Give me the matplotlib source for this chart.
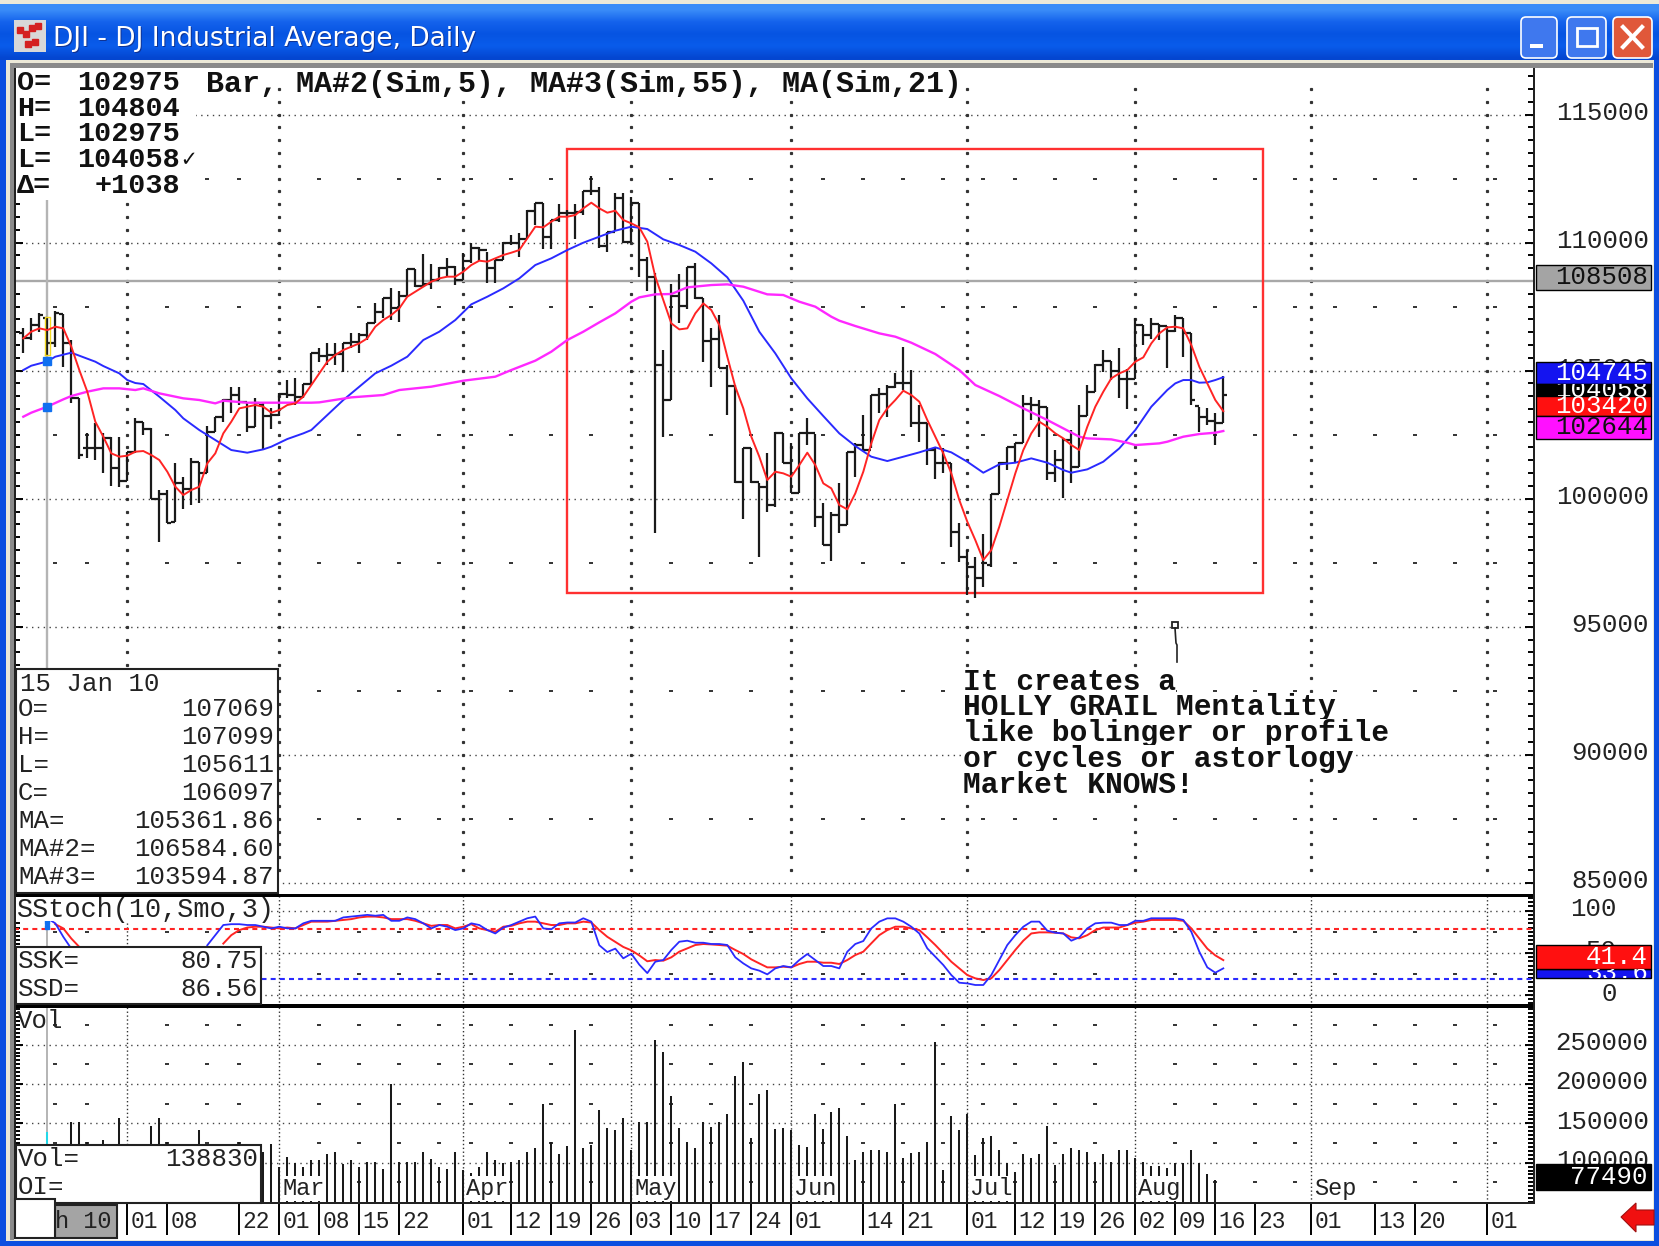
import matplotlib

matplotlib.use("Agg")
import numpy as np
from matplotlib import pyplot as plt
from matplotlib.patches import FancyBboxPatch, Polygon, Rectangle
from matplotlib.ticker import MultipleLocator
from matplotlib.transforms import ScaledTranslation

W, H = 1659, 1246

opens = [106458,106263,106784,107069,106094,107214,106068,103920,101966,101966,
         101966,102357,101185,100703,101810,103008,102709,99974,100183,99102,
         100625,100378,101446,101016,102618,103177,103854,104050,103789,102813,
         103659,103229,103268,104089,104050,103985,104479,105703,105573,105612,
         105651,106094,106133,106393,106875,107305,107825,107435,107916,108958,
         108307,108385,108541,108997,109062,108541,109297,109778,109713,108997,
         109323,110000,110000,110130,111250,111536,110234,110885,111145,111145,
         111210,112031,112031,109870,110429,111731,110039,111536,109323,108646,
         105221,103854,107916,107526,109036,107825,106172,106224,105091,104401,
         100664,101966,100664,100469,99753,102578,101380,100235,102552,102552,
         99297,98190,99362,98972,101836,102097,101901,104049,104088,104375,
         104531,104505,102942,102968,101901,101406,101380,98711,97734,97344,
         96888,97409,100182,101380,102005,102187,103697,103658,103593,100989,
         101510,102291,101224,103229,104179,105221,105390,105000,104661,104661,
         106784,106393,106823,106744,106562,107044,106484,103620,103203,103047,
         102975]
highs = [106654,107044,107266,107099,107344,107214,106198,103920,102552,102943,
         102578,102422,102422,101836,103138,103008,102748,100339,100339,101407,
         100860,101602,101446,102839,103203,103880,104375,104375,103789,103920,
         103724,103529,104115,104636,104701,104479,105703,105872,106094,106068,
         106068,106484,106458,106875,107656,107825,108216,108125,108958,108958,
         109557,109153,109062,109388,109088,109583,109999,109843,109648,109323,
         110039,110299,110390,111276,111536,111536,110885,111497,111276,111497,
         112031,112604,112187,110429,111953,111953,111796,111536,109453,108802,
         105807,108385,108776,109062,109218,107825,106654,107174,105221,104440,
         101966,101966,100599,101797,102617,102578,102188,102552,103138,102526,
         99844,99493,100625,101836,102188,103268,104050,104309,104440,104895,
         105937,105026,103659,102968,102031,101966,101380,99062,97995,97734,
         98620,100182,101445,102031,102161,104049,103984,103854,103593,101901,
         102357,102682,103658,104440,105260,105807,105390,105872,105052,107044,
         106784,107044,106823,106744,107174,107044,106458,103594,103529,103359,
         104804]
lows = [105677,106198,106524,105611,105938,105130,103724,101537,101576,101511,
        100990,100495,100443,100703,101771,102487,99974,98321,99037,99102,
        99584,99753,99818,101016,102618,103008,103334,103659,102618,102813,
        101901,102709,103229,103920,103659,103920,104440,105352,105221,105221,
        104961,105898,105677,106198,106849,107044,106979,106914,107890,108281,
        108281,108177,108541,108646,108346,108541,109192,109297,108411,108411,
        109323,109909,109427,110169,110690,109739,109739,110820,111015,110130,
        111080,111861,109778,109648,110468,110000,110039,108646,108125,98646,
        102422,103854,106849,107396,107786,105352,104349,105091,103268,100625,
        99193,100599,97709,99493,99688,101380,100209,100209,102097,98881,
        98190,97579,98646,98972,100860,101901,101966,103333,103203,104309,
        104244,102812,102226,101315,100755,100989,98125,97539,96237,96107,
        96563,97344,100182,101120,101445,102161,103073,102422,100729,100664,
        100013,100599,101250,103229,104179,104960,104635,103919,103489,104661,
        106002,106224,106198,105117,106523,105521,103659,102617,102877,102096,
        102975]
closes = [106263,106784,107175,106097,107266,106068,103920,101706,101966,101966,
          102357,101185,100703,101810,103008,102709,99974,100183,99063,100625,
          100378,101446,101016,102618,103177,103854,104050,103789,102813,103724,
          103229,103268,104089,104050,103985,104479,105703,105573,105612,105651,
          106094,106133,106393,106875,107305,107825,107435,107916,108958,108307,
          108385,108541,108997,109062,108541,109297,109778,109713,108997,109323,
          110000,110000,110130,111250,111536,110234,110885,111145,111145,111210,
          112031,112031,109870,110429,111731,110039,111536,109323,108646,105221,
          103854,107916,107526,109036,107825,106172,106224,105091,104401,100664,
          101966,100664,100469,99753,102578,101380,100209,102552,102552,99297,
          98190,99362,98972,101836,102097,101901,104050,104088,104375,104531,
          104505,102942,102968,101901,101406,101380,98711,97734,97344,96888,
          97474,100182,101380,102005,102187,103697,103658,103593,100989,101510,
          102291,101224,103229,104179,105221,105390,105000,104661,104661,106784,
          106393,106823,106744,106562,107044,106484,103854,103203,103047,102969,
          104058]

ma5 = [106263,106524,106654,106585,106719,106654,105938,105026,104180,103008,
       102422,101771,101641,101680,101836,101862,101706,101511,101055,100469,
       100144,100339,100469,101381,101771,102552,103008,103529,103594,103659,
       103594,103360,103464,103659,103724,103985,104440,104896,105351,105612,
       105807,105937,106068,106263,106719,106979,107174,107435,107890,108086,
       108281,108476,108606,108672,108672,108867,109127,109297,109258,109388,
       109518,109609,109713,110169,110625,110599,110820,111015,111015,111080,
       111341,111562,111341,111171,111250,110885,110755,110599,110039,108672,
       107760,106849,106614,106654,107239,107630,107370,106784,105547,104375,
       103529,102422,101641,100729,101055,100990,100860,101315,101797,101315,
       100599,100404,99753,99584,100209,101055,102161,103073,103528,103854,
       104218,104049,103789,103073,102422,101771,100989,99948,99101,98385,
       97604,97995,98906,99948,100989,101901,102552,103008,102812,102552,
       102357,102096,101901,102812,103593,104179,104700,104895,105026,105351,
       105520,106067,106458,106692,106718,106653,106002,105156,104505,103854,
       103420]

ma21_x = [0,1,3,4,6,7,9,10,12,13,14,15,17,19,20,22,24,26,28,30,31,33,35,36,
          38,40,42,44,46,48,50,52,54,56,58,60,62,64,66,68,70,72,
          74,76,78,80,82,84,86,88,90,92,94,96,98,100,102,104,106,
          108,110,112,114,116,118,120,122,124,126,128,130,131,133,135,137,139,
          141,142,143,144,145,146,147,148,149,150]
ma21 = [105026,105195,105362,105547,105703,105586,105352,105182,104896,104636,104518,104479,
        103985,103464,103138,102682,102292,101901,101797,101927,102032,102331,102552,102682,
        103268,103854,104375,104896,105195,105547,106198,106523,106979,107591,107890,108216,
        108606,109127,109388,109713,109999,110234,
        110468,110625,110533,110130,109909,109648,109192,108646,107734,106523,105677,104701,
        103919,103229,102552,102057,101641,
        101471,101640,101810,102005,101810,101445,101015,101341,101406,101575,101406,101120,
        101015,101146,101445,101966,102682,
        103593,103919,104245,104505,104635,104635,104531,104544,104635,104745]

ma55_x = [0,1,3,5,6,8,10,12,14,15,17,20,22,24,25,28,36,37,41,45,47,51,55,59,61,64,66,68,70,72,
          74,76,77,79,81,83,86,88,90,93,95,97,99,101,102,104,107,
          109,111,114,117,119,122,125,128,130,132,133,136,138,139,142,143,145,147,149,150]
ma55 = [103203,103360,103595,103880,104010,104180,104310,104310,104245,104310,104115,103920,
        103855,103724,103828,103750,103750,103763,103958,104050,104245,104375,104609,104766,
        105026,105391,105742,106198,106523,106888,
        107239,107695,107864,107982,107995,108255,108346,108372,108281,107982,107956,107695,
        107500,107109,106953,106745,106458,
        106328,106093,105651,105026,104440,104010,103528,103073,102747,102422,102356,102317,
        102187,102096,102161,102226,102422,102526,102578,102644]

ssk_head = [91,85,69,55,47]  # from Jan 15, then hidden behind the readout box
ssk = [59,71,83,84,84,83,83,81,79,81,79,79,85,88,88,88,88,92,93,94,95,94,95,88,88,92,90,85,79,83,
       81,77,79,85,83,77,73,80,83,87,91,93,79,78,85,86,86,91,87,59,51,55,43.5,49,36,26,39.5,
       41.5,53.4,63.2,64.4,62,62,60.5,60.5,59.3,44.7,37.5,31.6,28.9,24.5,31.6,34.4,32.8,41.5,48.6,
       41.5,34.4,34.4,31.6,51.4,60.5,64,79,87,90.9,90.9,87,81,73,55.3,45.5,35.6,23.7,14.6,13.8,11.9,
       11.9,23.7,41.5,59.3,71,81,87,87,76.3,73.9,73,64.4,68.4,79,85,85.8,85.8,83,83,88,88,91,91,91,
       91,89,75,51.4,32.8,26.5,31.6]
ssd_head = [84,79,67,57]
ssd = [61,71,77,80,81,81,80,79,80,79,83,87,87,87,88,89,90,92,93,93,92,90,90,90,88,85,82,83,83,79,
       81,84,79,77,75,81,82,85,87,87,85,83,83,85,85,87,86,77,69,63,57,53,47,40,
       41.5,40.7,44.7,51.4,55.3,59.3,60.5,60,59.3,58.5,53.4,48.6,42.3,37.5,32.8,32.8,33.6,32.8,36.8,
       39.5,39.5,38.3,38.3,36.8,41.5,47.4,51.4,61.3,71,77,81,81,79,77,68.4,59.3,49.4,39.5,31.6,23.7,
       19.8,17.8,19.8,29.6,41.5,53.4,64.4,73,74.3,74.3,73.9,73,68.4,67.2,71,77,80,80,80,83,85.8,87,
       89,89,89,89,88,79,67,55,47,41.4]

vol_early_x = [3,6,7,8,10,12,16,17,18,22,27]
vol_early = [138830,151300,151300,126700,128800,156350,146600,156350,126700,141500,126700]
vol = [114000,123700,94900,106800,100000,94900,103400,103400,111000,114000,
       98300,103400,94100,101300,101300,91500,200000,101300,101300,101300,
       114000,104200,94900,91500,114000,90700,87300,94100,114000,103400,
       100000,101300,103400,114000,119100,174600,126700,111000,121200,268600,
       119100,122500,167000,144500,141500,156350,116100,152100,152100,255900,
       241100,184700,143600,126700,118200,152100,144900,152100,161800,210200,
       228400,130900,187300,192400,142400,143600,141500,122500,120300,161800,
       142400,164800,169100,133900,103400,114000,116100,116100,114000,174600,
       105500,111900,114000,126700,253000,90700,159300,141500,161800,109700,
       130900,133900,116100,99200,88600,111000,105500,111000,146600,97000,
       111000,119100,116100,114000,101300,111000,101300,116100,116100,105500,
       101300,95800,95800,92800,100000,100000,116100,100000,85600,77490]

date_x = [13,18,27,32,37,42,47,55,61,66,71,76,81,86,91,96,105,110,118,124,129,134,139,144,149,154,161,169,174,183]
date_labels = ["01","08","22","01","08","15","22","01","12","19","26","03","10","17","24","01",
               "14","21","01","12","19","26","02","09","16","23","01","13","20","01"]
month_x = [32,55,76,96,118,139,161]
month_labels = ["Mar","Apr","May","Jun","Jul","Aug","Sep"]
grid_months = [13,32,55,76,96,118,139,161,183]
grid_weeks = [4,8,18,23,27,37,42,47,52,56,61,66,71,81,86,91,100,105,110,115,120,124,129,134,
              144,149,154,159,164,169,174,179,184]

note = ["It creates a", "HOLLY GRAIL Mentality", "like bolinger or profile",
        "or cycles or astorlogy", "Market KNOWS!"]
head_rows = [("O=", "102975"), ("H=", "104804"), ("L=", "102975"), ("L=", "104058"), ("Δ=", "+1038")]
box_rows = [("O=", "107069"), ("H=", "107099"), ("L=", "105611"), ("C=", "106097"),
            ("MA=", "105361.86"), ("MA#2=", "106584.60"), ("MA#3=", "103594.87")]

MONO = ["Liberation Mono", "DejaVu Sans Mono", "DejaVu Sans"]
RED, BLUE, PINK = "#ff2424", "#2a2aff", "#ff28ff"
DOT = (0, (1, 3.2))
XL = ((14 - 23.3) / 8, (1534 - 23.3) / 8)

fig = plt.figure(figsize=(W / 100, H / 100), dpi=100, facecolor="#ece9d8")


def px_axes(x0, y0, x1, y1, zorder=1):
    ax = fig.add_axes([x0 / W, 1 - y1 / H, (x1 - x0) / W, (y1 - y0) / H], zorder=zorder)
    ax.set_xlim(*XL)
    for s in ax.spines.values():
        s.set_visible(False)
    return ax


def overlay(zorder):
    ax = fig.add_axes([0, 0, 1, 1], zorder=zorder)
    ax.set_xlim(0, W)
    ax.set_ylim(H, 0)
    ax.axis("off")
    ax.patch.set_visible(False)
    return ax


def rect(ax, x0, y0, x1, y1, fc="white", ec="none", lw=0, **kw):
    p = Rectangle((x0, y0), x1 - x0, y1 - y0, facecolor=fc, edgecolor=ec, linewidth=lw, **kw)
    ax.add_patch(p)
    return p


def gridded(ax, rows, sparse, minor, major, pad, ylabels):
    ax.hlines(rows, *XL, color="#444444", lw=1.0, linestyles=[DOT], zorder=1)
    xs = [x for x in grid_weeks for _ in sparse]
    ys = [y for _ in grid_weeks for y in sparse]
    ax.plot(xs, ys, ls="none", marker="_", ms=3, mew=1.4, color="#333333", zorder=1)
    ax.yaxis.set_major_locator(MultipleLocator(major))
    ax.yaxis.set_minor_locator(MultipleLocator(minor))
    ax.tick_params(axis="y", which="both", left=True, right=True, direction="in",
                   labelleft=False, labelright=False, width=1.4)
    ax.tick_params(axis="y", which="major", length=6.5)
    ax.tick_params(axis="y", which="minor", length=4.2)
    ax.set_yticks(list(ylabels))
    ax.set_yticklabels([str(v) for v in ylabels])
    ax.tick_params(axis="y", which="major", labelright=True, pad=pad, labelsize=18.5)
    for lab in ax.get_yticklabels():
        lab.set_ha("right")
        lab.set_family(MONO)
        lab.set_color("#222222")
        lab.set_transform(lab.get_transform() + ScaledTranslation(-2 / 100, 4 / 100, fig.dpi_scale_trans))


# window frame
bg = overlay(0)
shade = np.array([[[58, 140, 248]], [[20, 98, 236]], [[6, 84, 226]], [[10, 92, 235]], [[4, 70, 208]]]) / 255
bg.imshow(shade, extent=(0, W, 64, 4), aspect="auto", interpolation="bilinear")
bg.set_xlim(0, W)
bg.set_ylim(H, 0)
rect(bg, 0, 60, 6, H, fc="#0c4fe0")
rect(bg, W - 5, 60, W, H, fc="#0c4fe0")
rect(bg, 0, H - 5, W, H, fc="#0c4fe0")
rect(bg, 6, 60, W - 5, H - 5, fc="#ece9d8")
rect(bg, 10, 63, W - 6, 68, fc="#8a8a8a")
rect(bg, 10, 63, 14, 1240, fc="#8a8a8a")
rect(bg, 14, 68, W - 6, 1240, fc="white")

main = px_axes(14, 68, 1534, 893)
main.set_ylim(84599, 116823)
stoch = px_axes(14, 896, 1534, 1006)
stoch.set_ylim(-13, 117.4)
volax = px_axes(14, 1006, 1534, 1203)
volax.set_ylim(48730, 299140)

# price panel
gridded(main, list(range(90000, 116000, 5000)) + [85000],
        list(range(87500, 115000, 5000)), 500, 5000, 84,
        [115000, 110000, 105000, 100000, 95000, 90000, 85000])
dot_y = np.arange(85500, 116500, 500)
main.plot(np.repeat(grid_months, len(dot_y)), np.tile(dot_y, len(grid_months)), ls="none",
          marker="s", ms=1.3, color="#333333", zorder=1)
main.hlines(108508, *XL, color="#a8a8a8", lw=1.7, zorder=2)
main.vlines(3, 84599, 111668, color="#b4b4b4", lw=1.7, zorder=2)
main.add_patch(Rectangle((67.9, 96325), 155 - 67.9, 113660 - 96325, fill=False, ec="#ff3030", lw=1.7, zorder=3))

idx = np.arange(len(closes))
main.vlines(idx, lows, highs, color="#1a1a1a", lw=1.6, zorder=4)
main.hlines(opens, idx - 0.5, idx, color="#1a1a1a", lw=1.6, zorder=4)
main.hlines(closes, idx, idx + 0.5, color="#1a1a1a", lw=1.6, zorder=4)
main.plot([2.7, 2.7, 3.3, 3.3, 2.7], [105611, 107099, 107099, 105611, 105611], color="#f2d820", lw=1, zorder=5)
main.plot(ma21_x, ma21, color=BLUE, lw=1.4, zorder=5)
main.plot(ma55_x, ma55, color=PINK, lw=1.7, zorder=5)
main.plot(idx, ma5, color=RED, lw=1.4, zorder=6)
main.plot([3, 3], [ma21[2], ma55[2]], ls="none", marker="s", ms=6, color="#1070f0", zorder=7)

# stochastic panel
gridded(stoch, [0, 50, 100], [25, 75], 5, 50, 61, [100, 50, 0])
for x in grid_months:
    stoch.vlines(x, -13, 117.4, color="#333333", lw=1, linestyles=[(0, (1, 1.8))], zorder=1)
stoch.vlines(3, -13, 117.4, color="#b4b4b4", lw=1.4, zorder=2)
stoch.hlines(78.3, *XL, color=RED, lw=1.5, linestyles=[(0, (2.4, 2))], zorder=2)
stoch.hlines(19, *XL, color=BLUE, lw=1.5, linestyles=[(0, (2.4, 2))], zorder=2)
stoch.plot(np.arange(len(ssd)) + 25, ssd, color=RED, lw=1.4, zorder=4)
stoch.plot(np.arange(len(ssk)) + 23, ssk, color=BLUE, lw=1.3, zorder=5)
stoch.plot(np.arange(len(ssd_head)) + 4, ssd_head, color=RED, lw=1.4, zorder=4)
stoch.plot(np.arange(len(ssk_head)) + 3, ssk_head, color=BLUE, lw=1.3, zorder=5)
stoch.plot([3, 3], [86.56, 80.75], ls="none", marker="s", ms=3.5, color="#1070f0", zorder=6)

# volume panel
gridded(volax, [100000, 150000, 200000, 250000],
        [75000, 125000, 175000, 225000, 275000], 5000, 50000, 84, [250000, 200000, 150000, 100000])
for x in grid_months:
    volax.vlines(x, 48730, 299140, color="#333333", lw=1, linestyles=[(0, (1, 1.8))], zorder=1)
volax.vlines(3, 48730, 299140, color="#b4b4b4", lw=1.4, zorder=2)
volax.vlines(vol_early_x, 48730, vol_early, color="#1a1a1a", lw=1.45, zorder=3)
volax.vlines(3, 48730, vol_early[0], color="#22d8e8", lw=1.45, zorder=4)
volax.vlines(np.arange(len(vol)) + 30, 48730, vol, color="#1a1a1a", lw=1.45, zorder=3)
for x, name in zip(month_x, month_labels):
    volax.annotate(name, (x, 48730), xytext=(3, 3), textcoords="offset pixels", fontsize=17, family=MONO,
                   va="bottom", color="#222222", zorder=5,
                   bbox=dict(fc="white", ec="none", pad=0.5))
volax.set_xticks(date_x)
volax.set_xticklabels(date_labels)
volax.tick_params(axis="x", direction="out", length=23, width=1.4, pad=-18, labelsize=16.5)
for lab in volax.get_xticklabels():
    lab.set_ha("left")
    lab.set_family(MONO)
    lab.set_color("#222222")
    lab.set_transform(lab.get_transform() + ScaledTranslation(3 / 100, 0, fig.dpi_scale_trans))
main.set_xticks([])
stoch.set_xticks([])

# overlay: frame lines, readouts, tags, title
top = overlay(10)
rect(top, 14, 894, 1534, 897, fc="black")
rect(top, 14, 1004, 1534, 1008, fc="black")
rect(top, 14, 1202, 1534, 1204, fc="#222222")
rect(top, 1533, 68, 1535, 1204, fc="#222222")
rect(top, 14, 68, 15.5, 1204, fc="#222222")

rect(top, 15.5, 69, 196, 197)
for k, (name, val) in enumerate(head_rows):
    y = 83 + k * 25.7
    top.text(17, y, name, family=MONO, fontsize=20.5, weight="bold", va="center", color="#111111")
    top.text(180, y, val, family=MONO, fontsize=20.5, weight="bold", va="center", ha="right", color="#111111")
top.text(181, 160, "✓", family=MONO, fontsize=17, weight="bold", va="center", color="#111111")
top.text(206, 84, "Bar, MA#2(Sim,5), MA#3(Sim,55), MA(Sim,21)", family=MONO, fontsize=21.6, weight="bold",
         va="center", color="#111111")

rect(top, 16, 669, 277.5, 893, ec="#222222", lw=1.5)
top.text(20, 684, "15 Jan 10", family=MONO, fontsize=18.5, va="center", color="#222222")
for k, (name, val) in enumerate(box_rows):
    y = 709 + k * 28
    top.text(18, y, name, family=MONO, fontsize=18.5, va="center", color="#222222")
    top.text(274, y, val, family=MONO, fontsize=18.5, va="center", ha="right", color="#222222")

rect(top, 15.5, 897, 271, 921)
top.text(17, 910, "SStoch(10,Smo,3)", family=MONO, fontsize=19.4, va="center", color="#222222")
rect(top, 15.5, 947, 261, 1004, ec="#222222", lw=1.5)
top.text(18, 961, "SSK=", family=MONO, fontsize=18.5, va="center", color="#222222")
top.text(258, 961, "80.75", family=MONO, fontsize=18.5, va="center", ha="right", color="#222222")
top.text(18, 989, "SSD=", family=MONO, fontsize=18.5, va="center", color="#222222")
top.text(258, 989, "86.56", family=MONO, fontsize=18.5, va="center", ha="right", color="#222222")

top.text(17, 1021, "Vol", family=MONO, fontsize=18.5, va="center", color="#222222")
rect(top, 15.5, 1145, 261, 1203, ec="#222222", lw=1.5)
top.text(18, 1159, "Vol=", family=MONO, fontsize=18.5, va="center", color="#222222")
top.text(258, 1159, "138830", family=MONO, fontsize=18.5, va="center", ha="right", color="#222222")
top.text(18, 1187, "OI=", family=MONO, fontsize=18.5, va="center", color="#222222")

rect(top, 55, 1205, 117, 1238, fc="#a4a4a4", ec="#222222", lw=1.5)
top.text(55, 1221, "h 10", family=MONO, fontsize=17, va="center", color="#222222")
rect(top, 15, 1199, 55, 1238, ec="#222222", lw=1.5)

for y, line in zip([682, 707, 733, 759, 785], note):
    top.text(963, y, line, family=MONO, fontsize=21.3, weight="bold", va="center", color="#111111",
             bbox=dict(fc="white", ec="none", pad=0))
rect(top, 1172, 622, 1178, 628, fc="white", ec="#222222", lw=1.3)
top.plot([1175, 1176, 1177, 1177], [628, 643, 645, 662], color="#222222", lw=1.2)

tags = [(265, 290, "#a4a4a4", "#111111", "108508"), (362, 384, "#1414f0", "white", "104745"),
        (384, 396, "black", "white", "104058"), (396, 416, "#ff1010", "white", "103420"),
        (416, 439, "#ff10ff", "#111111", "102644"), (969, 978, "#1414f0", "white", "33.6"),
        (945, 969, "#ff1010", "white", "41.4"), (1164, 1190, "black", "white", "77490")]
for y0, y1, fc, tc, label in tags:
    p = rect(top, 1536, y0, 1651, y1, fc=fc, ec="black", lw=1)
    t = top.text(1648, (y0 + y1) / 2, label, family=MONO, fontsize=18.5, color=tc, ha="right",
                 va="center", clip_on=True)
    t.set_clip_path(p)
top.add_patch(Polygon([(1621, 1217), (1636, 1203), (1636, 1210), (1654, 1210), (1654, 1225),
                       (1636, 1225), (1636, 1232)], fc="#f01010", ec="#a01010", lw=0.8))

rect(top, 14, 20, 46, 52, fc="#d8d8d8")
top.plot([20, 26, 32, 38, 28, 35], [30, 34, 28, 26, 44, 42], ls="none", marker="s", ms=4, color="#d42020")
top.text(54, 40, "DJI - DJ Industrial Average, Daily", family="DejaVu Sans", fontsize=19,
         color="#161650", va="center", alpha=0.55)
top.text(53, 39, "DJI - DJ Industrial Average, Daily", family="DejaVu Sans", fontsize=19,
         color="white", va="center")
for x0, x1, fc in [(1521, 1557, "#3f78ee"), (1567, 1606, "#3f78ee"), (1613, 1652, "#e0583a")]:
    top.add_patch(FancyBboxPatch((x0 + 3, 20), x1 - x0 - 6, 35, boxstyle="round,pad=3,rounding_size=5",
                                 fc=fc, ec="white", lw=1.2))
rect(top, 1530, 44, 1543, 48)
rect(top, 1577, 28, 1597, 46, fc="none", ec="white", lw=2)
top.plot([1623, 1642], [27, 47], color="white", lw=3)
top.plot([1623, 1642], [47, 27], color="white", lw=3)

fig.savefig("out.png", dpi=100, facecolor=fig.get_facecolor())
